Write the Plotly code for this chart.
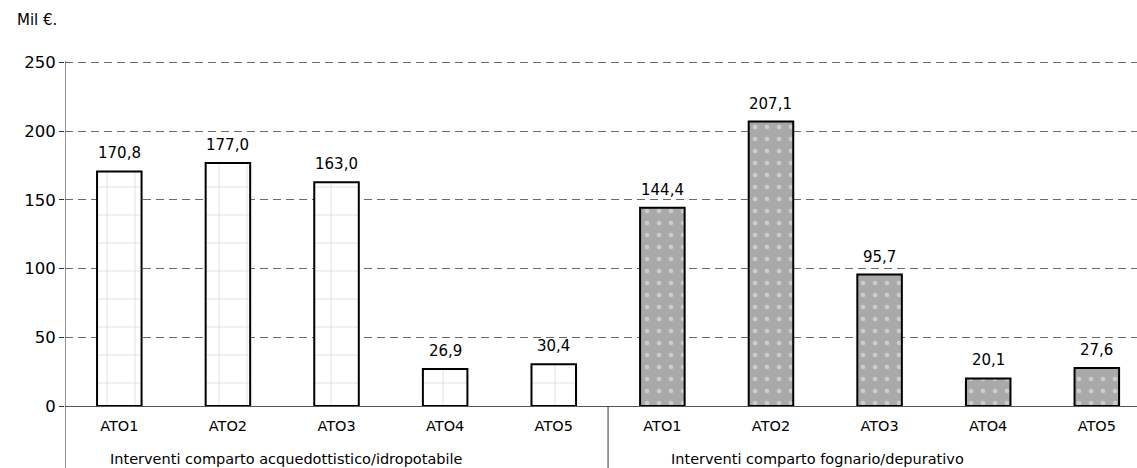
import plotly.graph_objects as go

groups = ["Interventi comparto acquedottistico/idropotabile", "Interventi comparto fognario/depurativo"]
categories = ["ATO1", "ATO2", "ATO3", "ATO4", "ATO5"]
acquedotto = [170.8, 177.0, 163.0, 26.9, 30.4]
fognario = [144.4, 207.1, 95.7, 20.1, 27.6]
y_ticks = [0, 50, 100, 150, 200, 250]

FONT = "DejaVu Sans"
n = len(categories)
x1 = list(range(n))
x2 = list(range(n, 2 * n))

fig = go.Figure()
fig.add_trace(go.Bar(
    x=x1, y=acquedotto, width=0.41,
    marker=dict(color="white", line=dict(color="black", width=2),
                pattern=dict(shape="+", fgcolor="#b8b8b8", bgcolor="white", size=28, solidity=0.06)),
    hoverinfo="skip", showlegend=False,
))
fig.add_trace(go.Bar(
    x=x2, y=fognario, width=0.41,
    marker=dict(color="#acacac", line=dict(color="black", width=2),
                pattern=dict(shape=".", fgcolor="#f0f0f0", bgcolor="#a9a9a9", size=12, solidity=0.12)),
    hoverinfo="skip", showlegend=False,
))

for xs, vals in ((x1, acquedotto), (x2, fognario)):
    for xv, v in zip(xs, vals):
        fig.add_annotation(x=xv, y=v, text=f"{v:.1f}".replace(".", ","), showarrow=False,
                           yanchor="bottom", yshift=7, font=dict(family=FONT, size=15, color="black"))

# group labels
group_centers = [1.535, 6.43]
for gc, g in zip(group_centers, groups):
    fig.add_annotation(x=gc, y=-0.1545, xref="x", yref="paper", text=g,
                       showarrow=False, yanchor="middle",
                       font=dict(family=FONT, size=14.5, color="black"))

fig.add_annotation(x=-0.047, y=1.12, xref="paper", yref="paper", text="Mil €.", showarrow=False,
                   xanchor="left", yanchor="middle", font=dict(family=FONT, size=15, color="black"))

# separators
fig.add_shape(type="line", xref="x", yref="paper", x0=-0.5, x1=-0.5, y0=1, y1=-0.2,
              line=dict(color="#333333", width=1))
fig.add_shape(type="line", xref="x", yref="paper", x0=n - 0.5, x1=n - 0.5, y0=0, y1=-0.2,
              line=dict(color="#333333", width=1))

fig.update_layout(
    width=1137, height=468,
    margin=dict(l=65, r=0, t=61, b=62, autoexpand=False),
    plot_bgcolor="white", paper_bgcolor="white",
    bargap=0.5,
    xaxis=dict(range=[-0.5, 9.37], tickvals=x1 + x2, ticktext=categories + categories,
               tickfont=dict(family=FONT, size=14.5, color="black"), ticks="", showgrid=False,
               ticklabelstandoff=9, automargin=False,
               zeroline=False, showline=False, fixedrange=True),
    yaxis=dict(range=[0, 251.2], tickvals=y_ticks, ticks="outside", ticklen=5, tickcolor="#333333",
               tickfont=dict(family=FONT, size=16.5, color="black"), automargin=False,
               showgrid=True, gridcolor="#6a6a6a", griddash="8px,5px", gridwidth=1,
               zeroline=True, zerolinecolor="#555555", zerolinewidth=1,
               showline=False, fixedrange=True),
    font=dict(family=FONT),
)

fig.write_html("out.html", config={"displayModeBar": False},
               post_script="document.body.style.margin='0';document.body.style.overflow='hidden';")
